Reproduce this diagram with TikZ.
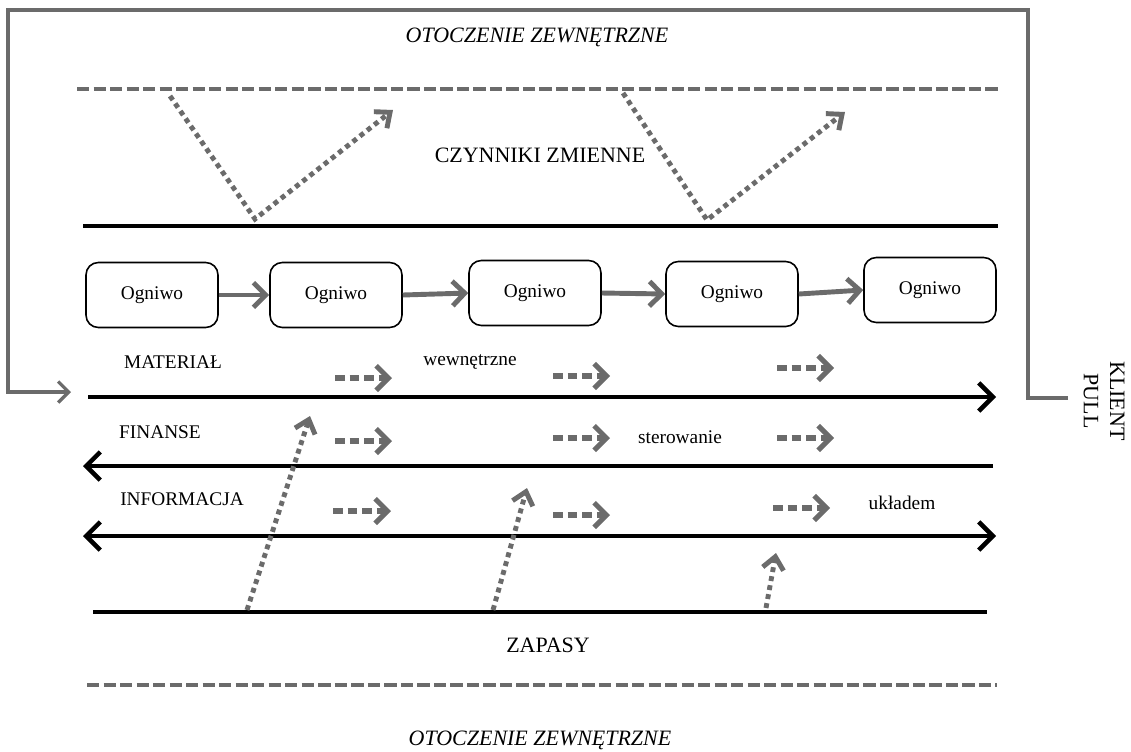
\documentclass[tikz,border=0pt]{standalone}
\usepackage{fontspec}
\setmainfont{Liberation Serif}
\usetikzlibrary{arrows.meta}
\definecolor{linegray}{gray}{0.42}
\tikzset{
  frameline/.style={draw=linegray, line width=1.9pt},
  ogniwo/.style={draw, rounded corners=7pt, line width=0.9pt, minimum width=2.64cm, minimum height=1.3cm},
  linkarrow/.style={draw=linegray, line width=2.8pt, -{Straight Barb[length=7pt,width=14pt]}},
  flowline/.style={draw, line width=2.6pt},
  flowarrow/.style={flowline, -{Straight Barb[length=8pt,width=16pt]}},
  flowboth/.style={flowline, {Straight Barb[length=8pt,width=16pt]}-{Straight Barb[length=8pt,width=16pt]}},
  dashgray/.style={draw=linegray, line width=2.8pt, dash pattern=on 7pt off 2.4pt},
  dotgray/.style={draw=linegray, line width=2.8pt, dash pattern=on 2.8pt off 2.4pt},
  dotarrow/.style={dotgray, -{Straight Barb[length=7pt,width=12pt]}},
  smallarrow/.style={draw=linegray, line width=2.9pt, dash pattern=on 5.5pt off 2.8pt, -{Straight Barb[length=7pt,width=14pt]}},
  label/.style={inner sep=1pt},
  biglabel/.style={inner sep=1pt, font=\fontsize{12.5}{15}\selectfont}
}
\begin{document}
\begin{tikzpicture}[x=0.02cm, y=-0.02cm, font=\fontsize{11}{13}\selectfont]
  \useasboundingbox (0,0) rectangle (1131,751);
  % outer frame
  \coordinate (f1) at (71,392);
  \coordinate (f2) at (8,392);
  \coordinate (f3) at (8,10);
  \coordinate (f4) at (1028,10);
  \coordinate (f5) at (1028,398);
  \coordinate (f6) at (1068,398);
  \draw[frameline, -{Straight Barb[length=6pt,width=12pt]}] (f6) -- (f5) -- (f4) -- (f3) -- (f2) -- (f1);
  \node[biglabel] (otop) at (537,37) {\itshape OTOCZENIE ZEWNĘTRZNE};
  \node[biglabel, rotate=-90, align=center] (klient) at (1104,401) {KLIENT\\PULL};
  % czynniki zmienne
  \coordinate (dtL) at (77,89);  \coordinate (dtR) at (1000,89);
  \draw[dashgray] (dtL) -- (dtR);
  \coordinate (czL) at (83,226); \coordinate (czR) at (998,226);
  \draw[flowline, line width=2.3pt] (czL) -- (czR);
  \node[biglabel] (czynniki) at (540,155) {CZYNNIKI ZMIENNE};
  \coordinate (v1a) at (170,96); \coordinate (v1b) at (255,219); \coordinate (v1c) at (393,110);
  \draw[dotarrow] (v1a) -- (v1b) -- (v1c);
  \coordinate (v2a) at (623,93); \coordinate (v2b) at (707,220); \coordinate (v2c) at (845,112);
  \draw[dotarrow] (v2a) -- (v2b) -- (v2c);
  % ogniwa
  \node[ogniwo] (b1) at (152,295) {Ogniwo};
  \node[ogniwo] (b2) at (336,295) {Ogniwo};
  \node[ogniwo] (b3) at (535,293) {Ogniwo};
  \node[ogniwo] (b4) at (732,294) {Ogniwo};
  \node[ogniwo] (b5) at (930,290) {Ogniwo};
  \draw[linkarrow] (b1.east) -- (b2.west);
  \draw[linkarrow] (b2.east) -- (b3.west);
  \draw[linkarrow] (b3.east) -- (b4.west);
  \draw[linkarrow] (b4.east) -- (b5.west);
  % przeplywy
  \node[label] (material) at (173,362) {MATERIAŁ};
  \node[label] (wewn) at (470,362) {wewnętrzne};
  \coordinate (mL) at (88,397); \coordinate (mR) at (996,397);
  \draw[flowarrow] (mL) -- (mR);
  \node[label] (finanse) at (160,432) {FINANSE};
  \node[label] (sterow) at (680,437) {sterowanie};
  \coordinate (fL) at (83,466); \coordinate (fR) at (993,466);
  \draw[flowarrow] (fR) -- (fL);
  \node[label] (inform) at (182,499) {INFORMACJA};
  \node[label] (ukladem) at (902,503) {układem};
  \coordinate (iL) at (83,536); \coordinate (iR) at (996,536);
  \draw[flowboth] (iL) -- (iR);
  \draw[smallarrow] (335,378) -- (392,378);
  \draw[smallarrow] (553,376) -- (610,376);
  \draw[smallarrow] (777,368) -- (834,368);
  \draw[smallarrow] (335,441) -- (392,441);
  \draw[smallarrow] (553,438) -- (610,438);
  \draw[smallarrow] (777,438) -- (834,438);
  \draw[smallarrow] (333,511) -- (391,511);
  \draw[smallarrow] (553,515) -- (610,515);
  \draw[smallarrow] (773,508) -- (830,508);
  % zapasy
  \coordinate (zL) at (93,612); \coordinate (zR) at (987,612);
  \draw[flowline, line width=2.3pt] (zL) -- (zR);
  \node[biglabel] (zapasy) at (548,645) {ZAPASY};
  \coordinate (z1) at (247,610); \coordinate (t1) at (310,416);
  \coordinate (z2) at (493,610); \coordinate (t2) at (527,488);
  \coordinate (z3) at (766,608); \coordinate (t3) at (776,553);
  \draw[dotarrow] (z1) -- (t1);
  \draw[dotarrow] (z2) -- (t2);
  \draw[dotarrow] (z3) -- (t3);
  \coordinate (dbL) at (87,685); \coordinate (dbR) at (997,685);
  \draw[dashgray] (dbL) -- (dbR);
  \node[biglabel] (obot) at (540,740) {\itshape OTOCZENIE ZEWNĘTRZNE};
\end{tikzpicture}
\end{document}
